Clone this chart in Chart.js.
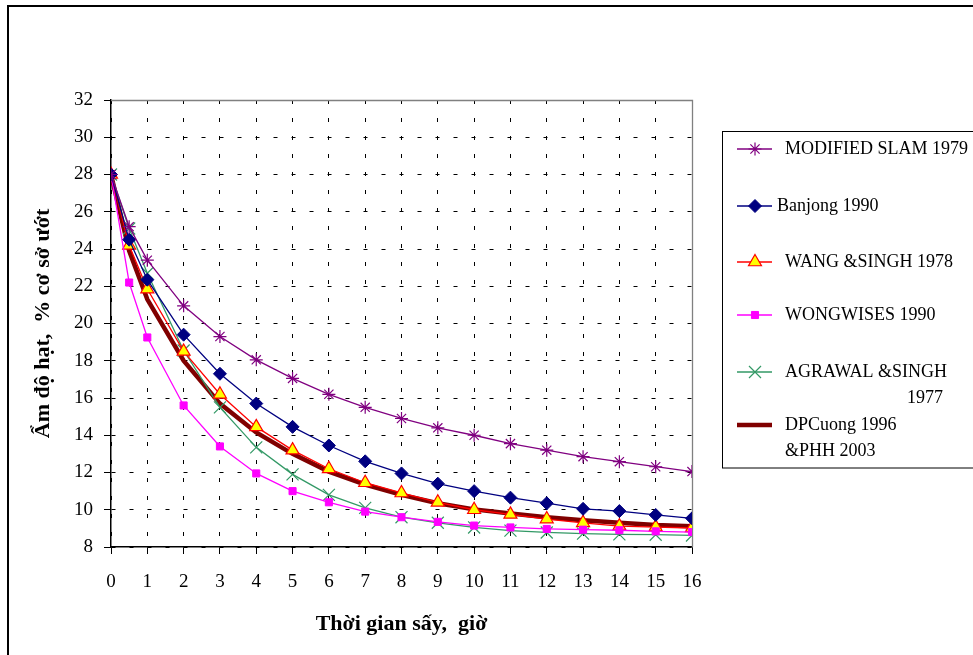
<!DOCTYPE html>
<html>
<head>
<meta charset="utf-8">
<script src="https://cdn.jsdelivr.net/npm/chart.js"></script>
<style>
  body { margin: 0; background: #fff; }
  canvas { display: block; }
</style>
</head>
<body>
<canvas id="myChart" width="973" height="655"></canvas>
<script>
// time axis (hours)
const hours = [0, 0.5, 1, 2, 3, 4, 5, 6, 7, 8, 9, 10, 11, 12, 13, 14, 15, 16];

// moisture content, % wet basis
const slam      = [28, 25.2, 23.4, 20.95, 19.3, 18.05, 17.05, 16.2, 15.5, 14.9, 14.4, 14.0, 13.55, 13.2, 12.85, 12.58, 12.31, 12.05];
const banjong   = [28, 24.5, 22.35, 19.4, 17.3, 15.7, 14.45, 13.45, 12.6, 11.95, 11.4, 11.0, 10.65, 10.35, 10.05, 9.93, 9.72, 9.54];
const wang      = [28, 24.2, 21.85, 18.5, 16.2, 14.45, 13.2, 12.2, 11.45, 10.9, 10.4, 10.0, 9.75, 9.5, 9.3, 9.12, 9.07, 9.02];
const wongwises = [28, 22.2, 19.25, 15.6, 13.4, 11.95, 11.0, 10.4, 9.9, 9.6, 9.35, 9.15, 9.05, 8.97, 8.93, 8.9, 8.84, 8.8];
const agrawal   = [28, 25.1, 22.7, 18.55, 15.5, 13.35, 11.9, 10.8, 10.1, 9.6, 9.3, 9.05, 8.88, 8.78, 8.72, 8.68, 8.66, 8.62];
const cuong     = [28, 23.9, 21.3, 18.0, 15.7, 14.15, 13.0, 12.05, 11.35, 10.8, 10.35, 10.02, 9.8, 9.6, 9.43, 9.3, 9.18, 9.12];

const seriesNames = ['MODIFIED SLAM 1979', 'Banjong 1990', 'WANG &SINGH 1978', 'WONGWISES 1990', 'AGRAWAL &SINGH 1977', 'DPCuong 1996 &PHH 2003'];
const legendLines = [['MODIFIED SLAM 1979'], ['Banjong 1990'], ['WANG &SINGH 1978'], ['WONGWISES 1990'], ['AGRAWAL &SINGH', '1977'], ['DPCuong 1996', '&PHH 2003']];

const xTitle = 'Thời gian sấy,  giờ';
const yTitle = 'Ẩm độ hạt,  % cơ sở ướt';

const serif = "'Liberation Serif', 'Times New Roman', serif";

function pts(values) {
  return values.map((v, i) => ({ x: hours[i], y: v }));
}

const framePlugin = {
  id: 'frame',
  beforeDraw(chart) {
    const ctx = chart.ctx;
    ctx.save();
    ctx.fillStyle = '#fff';
    ctx.fillRect(0, 0, chart.width, chart.height);
    ctx.strokeStyle = '#000';
    ctx.lineWidth = 2;
    ctx.strokeRect(8, 6, 1000, 700);
    ctx.restore();
  },
  beforeDatasetsDraw(chart) {
    // grey top and right edge of the plot area
    const { ctx, chartArea: a } = chart;
    ctx.save();
    ctx.strokeStyle = '#808080';
    ctx.lineWidth = 1.3;
    ctx.beginPath();
    ctx.moveTo(a.left, a.top + 0.5);
    ctx.lineTo(a.right + 0.5, a.top + 0.5);
    ctx.lineTo(a.right + 0.5, a.bottom);
    ctx.stroke();
    ctx.restore();
  }
};

const legendPlugin = {
  id: 'sideLegend',
  afterDraw(chart) {
    const ctx = chart.ctx;
    const rowY = [149, 206, 262, 315, 372, 425];
    const textX = [785, 777, 785, 785, 785, 785];
    ctx.save();
    ctx.strokeStyle = '#000';
    ctx.lineWidth = 1;
    ctx.strokeRect(722.5, 131.5, 300, 336.5);
    ctx.font = '18px ' + serif;
    ctx.textBaseline = 'middle';
    ctx.fillStyle = '#000';
    chart.data.datasets.forEach((ds, i) => {
      const y = rowY[i];
      ctx.save();
      ctx.strokeStyle = ds.borderColor;
      ctx.lineWidth = ds.borderWidth;
      ctx.beginPath();
      ctx.moveTo(737, y);
      ctx.lineTo(772, y);
      ctx.stroke();
      if (ds.pointRadius > 0) {
        ctx.fillStyle = ds.pointBackgroundColor;
        ctx.strokeStyle = ds.pointBorderColor;
        ctx.lineWidth = ds.pointBorderWidth;
        Chart.helpers.drawPoint(ctx, { pointStyle: ds.pointStyle, radius: ds.pointRadius, rotation: 0, borderWidth: ds.pointBorderWidth }, 755, y);
      }
      ctx.restore();
      legendLines[i].forEach((line, j) => {
        const x = (i === 4 && j === 1) ? 907 : textX[i];
        ctx.fillText(line, x, y + j * 26.5);
      });
    });
    ctx.restore();
  }
};

function gridColor(lastValue) {
  return c => (c.tick && c.tick.value === lastValue) ? 'rgba(0,0,0,0)' : '#000';
}

const ctx = document.getElementById('myChart').getContext('2d');
new Chart(ctx, {
  type: 'line',
  data: {
    datasets: [
      {
        label: seriesNames[0], data: pts(slam), order: 1,
        borderColor: '#800080', borderWidth: 1.3,
        pointStyle: 'star', pointRadius: 6.5, pointBorderWidth: 1.2,
        pointBackgroundColor: '#800080', pointBorderColor: '#800080'
      },
      {
        label: seriesNames[1], data: pts(banjong), order: 2,
        borderColor: '#000080', borderWidth: 1.3,
        pointStyle: 'rectRot', pointRadius: 6.5, pointBorderWidth: 1,
        pointBackgroundColor: '#000080', pointBorderColor: '#000080'
      },
      {
        label: seriesNames[2], data: pts(wang), order: 4,
        borderColor: '#FF0000', borderWidth: 1.3,
        pointStyle: 'triangle', pointRadius: 7.5, pointBorderWidth: 1.2,
        pointBackgroundColor: '#FFFF00', pointBorderColor: '#FF0000'
      },
      {
        label: seriesNames[3], data: pts(wongwises), order: 3,
        borderColor: '#FF00FF', borderWidth: 1.3,
        pointStyle: 'rect', pointRadius: 5, pointBorderWidth: 1,
        pointBackgroundColor: '#FF00FF', pointBorderColor: '#FF00FF'
      },
      {
        label: seriesNames[4], data: pts(agrawal), order: 5,
        borderColor: '#339966', borderWidth: 1.3,
        pointStyle: 'crossRot', pointRadius: 8.5, pointBorderWidth: 1.2,
        pointBackgroundColor: '#339966', pointBorderColor: '#339966'
      },
      {
        label: seriesNames[5], data: pts(cuong), order: 6,
        borderColor: '#800000', borderWidth: 4.5,
        pointRadius: 0, pointBorderWidth: 0,
        pointBackgroundColor: '#800000', pointBorderColor: '#800000'
      }
    ]
  },
  options: {
    responsive: false,
    animation: false,
    maintainAspectRatio: false,
    layout: { padding: { top: 100, right: 281, left: 0, bottom: 0 } },
    elements: { line: { tension: 0 } },
    plugins: {
      legend: { display: false },
      tooltip: { enabled: false }
    },
    scales: {
      x: {
        type: 'linear',
        min: 0, max: 16,
        afterFit: s => { s.height = 108; },
        ticks: {
          stepSize: 1,
          color: '#000',
          padding: 17,
          font: { size: 19, family: serif }
        },
        grid: {
          color: gridColor(16),
          tickBorderDash: [],
          tickColor: '#000',
          tickLength: 7,
          lineWidth: 1
        },
        border: { color: '#000', width: 1.5, dash: [4, 14] },
        title: {
          display: true,
          text: xTitle,
          color: '#000',
          padding: { top: 0, bottom: 17 },
          font: { size: 22, weight: 'bold', family: serif }
        }
      },
      y: {
        min: 8, max: 32,
        afterFit: s => { s.width = 111; },
        ticks: {
          stepSize: 2,
          color: '#000',
          padding: 11,
          font: { size: 19, family: serif }
        },
        grid: {
          color: gridColor(32),
          tickBorderDash: [],
          tickColor: '#000',
          tickLength: 7,
          lineWidth: 1
        },
        border: { color: '#000', width: 1.5, dash: [4, 14] },
        title: {
          display: true,
          text: yTitle,
          color: '#000',
          padding: { top: 30, bottom: 0 },
          font: { size: 22, weight: 'bold', family: serif }
        }
      }
    }
  },
  plugins: [framePlugin, legendPlugin]
});
</script>
</body>
</html>
